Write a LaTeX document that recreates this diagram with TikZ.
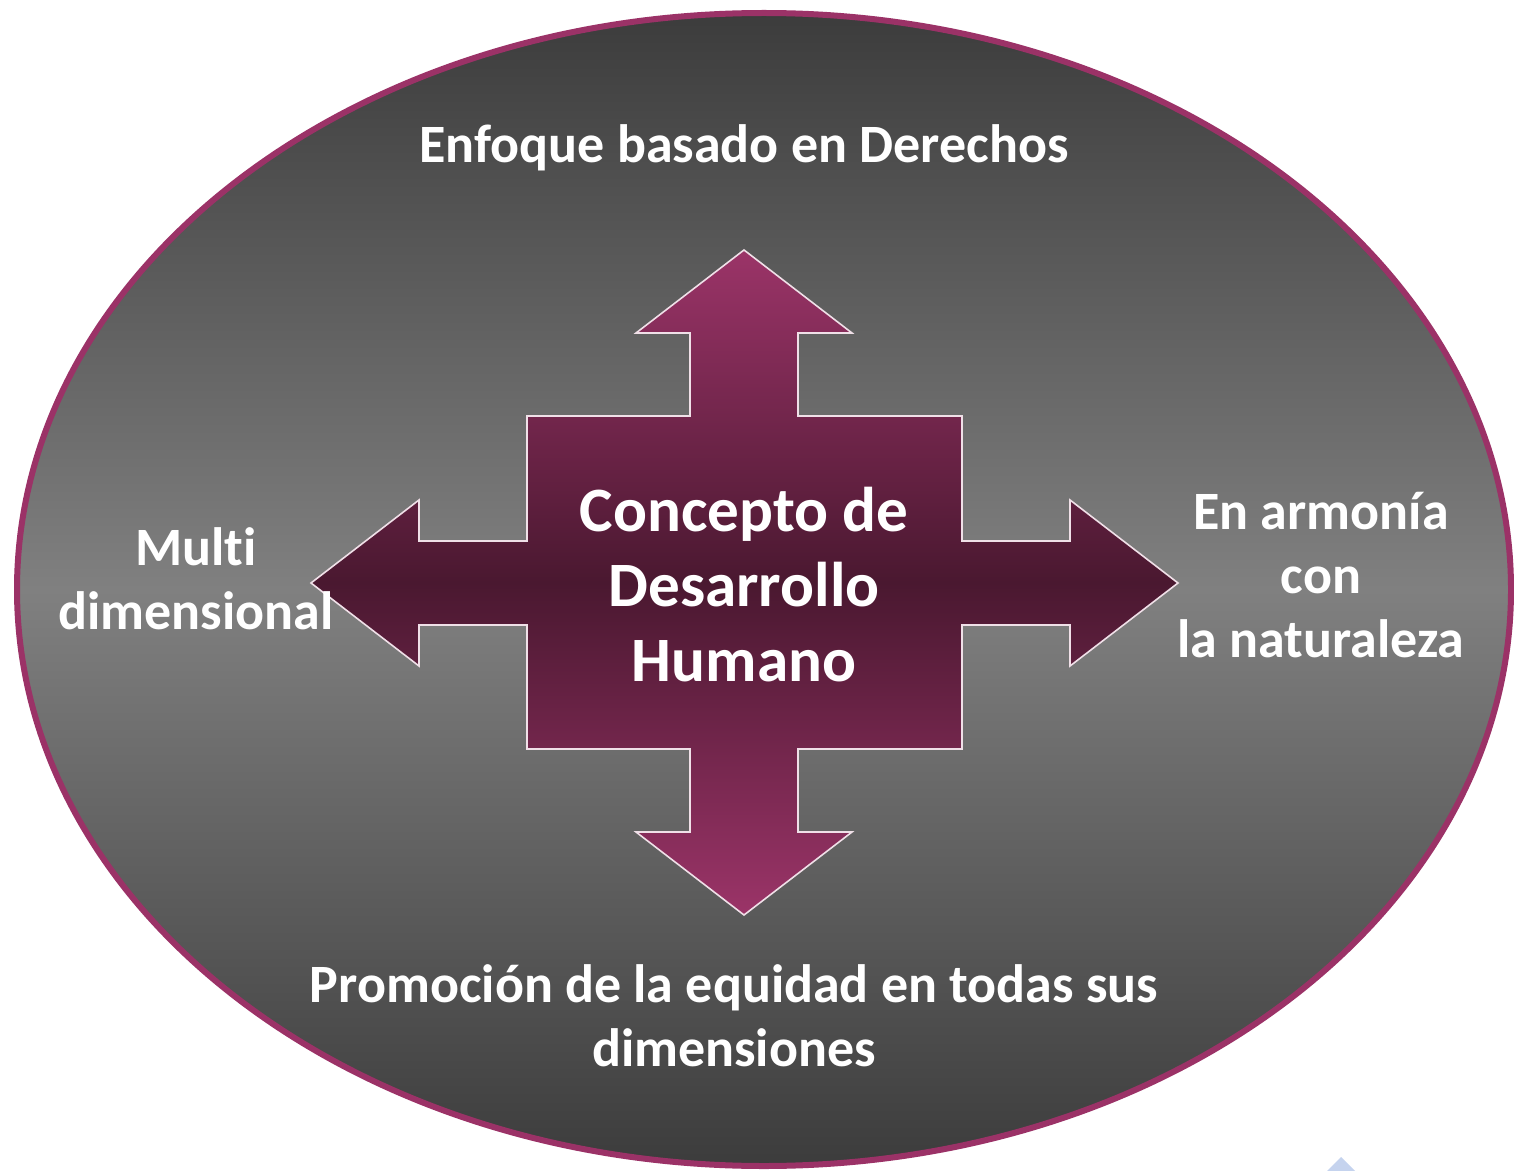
\documentclass[tikz,border=0pt]{standalone}
\usepackage{fontspec}
\setmainfont{Carlito}[Ligatures={NoCommon}]
\definecolor{rim}{HTML}{9B3267}
\definecolor{arrtop}{HTML}{9B3468}
\definecolor{arrmid}{HTML}{4A1830}
\definecolor{ovtop}{HTML}{3C3C3C}
\definecolor{ovmid}{HTML}{808080}
\definecolor{tri}{HTML}{C5D3EE}
\begin{document}
\begin{tikzpicture}[x=0.5pt,y=-0.5pt,
  lbl/.style={text=white,font=\bfseries\fontsize{27}{32}\selectfont,align=center,inner sep=0pt},
  bigl/.style={lbl,font=\bfseries\fontsize{31.6}{37.5}\selectfont}]
\useasboundingbox (0,0) rectangle (1514,1171);
\draw[rim, line width=3pt, top color=ovtop, bottom color=ovtop, middle color=ovmid]
  (764,589.5) ellipse [x radius=373.5pt, y radius=288.25pt];
\draw[white!85!rim, line width=0.8pt, top color=arrtop, bottom color=arrtop, middle color=arrmid]
  (744,250) -- (852,333) -- (798,333) -- (798,416) -- (962,416) -- (962,541) -- (1070,541)
  -- (1070,500) -- (1178,583) -- (1070,666) -- (1070,625) -- (962,625) -- (962,749)
  -- (798,749) -- (798,832) -- (852,832) -- (744,915) -- (636,832) -- (690,832) -- (690,749)
  -- (527,749) -- (527,625) -- (419,625) -- (419,666) -- (311,583) -- (419,500) -- (419,541)
  -- (527,541) -- (527,416) -- (690,416) -- (690,333) -- (636,333) -- cycle;
\node[lbl] (top) at (744,148) {Enfoque basado en Derechos};
\node[lbl] (left) at (196,579) {Multi\\dimensional};
\node[lbl] (right) at (1321,575) {En armonía\\con\\la naturaleza};
\node[lbl] (bottom) at (734,1016) {Promoción de la equidad en todas sus\\dimensiones};
\node[bigl] (center) at (744,585) {Concepto de\\Desarrollo\\Humano};
\fill[tri] (1341,1157) -- (1355,1171) -- (1327,1171) -- cycle;
\end{tikzpicture}
\end{document}
